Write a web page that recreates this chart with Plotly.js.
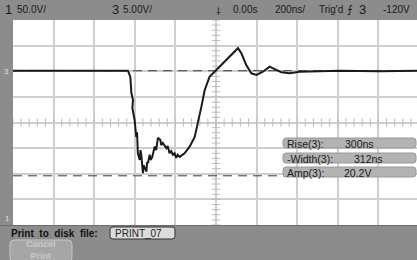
<!DOCTYPE html>
<html>
<head>
<meta charset="utf-8">
<script src="https://cdn.plot.ly/plotly-3.0.1.min.js"></script>
<style>
html,body{margin:0;padding:0;background:#8c8c8c;}
#chart{width:417px;height:260px;}
</style>
</head>
<body>
<div id="chart"></div>
<script>
// Channel 3 waveform: time (ns) and voltage (V)
const timeNs = [-1000,-434,-422,-417,-409,-412,-401,-393,-389,-385,-376,-372,-368,-360,-357,-352,-343,-339,-335,-327,-322,-314,-302,-295,-286,-274,-270,-262,-245,-238,-229,-221,-212,-204,-196,-189,-179,-155,-130,-105,-89,-72,-56,-32,-7,18,51,83,108,125,149,174,199,231,264,289,322,363,412,609,806,990];
const volts  = [10.1,10.1,8.9,5.8,4.4,2.8,0.5,-2.8,-1.9,-6.0,-7.3,-5.4,-6.3,-9.9,-8.3,-8.7,-9.6,-7.7,-7.9,-6.3,-7.3,-6.7,-4.7,-5.4,-3.0,-3.4,-4.4,-4.0,-5.0,-4.6,-6.0,-5.6,-6.3,-6.0,-6.9,-6.3,-6.7,-6.0,-4.7,-2.8,-0.1,3.1,6.3,8.9,9.9,10.9,12.2,13.5,14.5,13.5,11.2,9.6,9.3,9.9,10.9,10.4,9.8,9.6,9.9,10.1,10.0,10.1];
// Amplitude measurement cursor levels (V)
const ampLevels = [10.1, -10.4];
const timeRange = [-1000, 990];
const voltRange = [-20, 20];
// Measurement readouts
const measLabels = ["Rise(3):", "-Width(3):", "Amp(3):"];
const measValues = ["300ns", "312ns", "20.2V"];
// Status bar texts
const ch1Scale = "50.0V/";
const ch3Scale = "5.00V/";
const timeDelay = "0.00s";
const timeScale = "200ns/";
const trigText = "Trig'd";
const trigLevel = "-120V";
const fileName = "PRINT_07";

// pixel -> paper helpers (layout only)
const L=13, T=20, W=404, H=205;
const X = px => (px - L) / W;
const Y = py => (T + H - py) / H;

const traces = [];
// center axis minor ticks (decoration)
const tx=[], ty=[];
for (let t=timeRange[0]; t<=timeRange[1]; t+=40){ tx.push(t); ty.push(0); }
const vx=[], vy=[];
for (let v=voltRange[0]; v<=voltRange[1]; v+=1){ vx.push(0); vy.push(v); }
traces.push({x:tx,y:ty,mode:'markers',marker:{symbol:'line-ns-open',size:6,color:'#bdbdbd',line:{width:1,color:'#bdbdbd'}},hoverinfo:'skip'});
traces.push({x:vx,y:vy,mode:'markers',marker:{symbol:'line-ew-open',size:6,color:'#bdbdbd',line:{width:1,color:'#bdbdbd'}},hoverinfo:'skip'});
// amplitude cursor lines
ampLevels.forEach(lv=>{
  traces.push({x:timeRange,y:[lv,lv],mode:'lines',line:{color:'#3a3a3a',width:1,dash:'9px,6px'},hoverinfo:'skip'});
});
// waveform
traces.push({x:timeNs,y:volts,mode:'lines',line:{color:'#1a1a1a',width:2},hoverinfo:'skip'});

const shapes = [];
const annotations = [];
const font = {family:'Liberation Sans, Arial, sans-serif', size:10, color:'#1a1a1a'};
function txt(text, px, py, opts={}){
  annotations.push(Object.assign({text:text, xref:'paper', yref:'paper', x:X(px), y:Y(py), xanchor:'left', yanchor:'middle', showarrow:false, font:Object.assign({}, font, opts.font||{})}, opts.extra||{}));
}
function rrect(x0,y0,x1,y1,r,fill,line){
  const a=X(x0), b=X(x1), c=Y(y0), d=Y(y1);
  const rx=r/W, ry=r/H;
  const path = `M ${a+rx} ${c} L ${b-rx} ${c} Q ${b} ${c} ${b} ${c-ry} L ${b} ${d+ry} Q ${b} ${d} ${b-rx} ${d} L ${a+rx} ${d} Q ${a} ${d} ${a} ${d+ry} L ${a} ${c-ry} Q ${a} ${c} ${a+rx} ${c} Z`;
  shapes.push({type:'path', xref:'paper', yref:'paper', path:path, fillcolor:fill, line:{color:line, width:1}, layer:'above'});
}

// top bar
txt('1', 3, 10, {font:{size:13}});
txt(ch1Scale, 15, 10);
txt('3', 110, 10, {font:{size:13}});
txt(ch3Scale, 121, 10);
txt('⸸', 214, 12, {font:{size:10}});
txt(timeDelay, 231, 10);
txt(timeScale, 273, 10);
txt(trigText, 317, 10);
txt('⨍', 345, 10, {font:{size:11}});
txt('3', 357, 10, {font:{size:13}});
txt(trigLevel, 381, 10);

// measurement boxes
const boxRows = [[138,148],[153,163],[167,177]];
const valX = [343, 352, 342];
boxRows.forEach((r,i)=>{
  rrect(283, r[0], 416, r[1], 3, '#b3b3b3', '#9a9a9a');
  txt(measLabels[i], 285, (r[0]+r[1])/2+0.5, {font:{size:10.5}});
  txt(measValues[i], valX[i], (r[0]+r[1])/2+0.5, {font:{size:10.5}});
});

// left markers
txt('3', 2, 71, {font:{size:8, color:'#e0e0e0'}});
txt('1', 3, 218, {font:{size:8, color:'#e0e0e0'}});

// bottom bar
shapes.push({type:'line', xref:'paper', yref:'paper', x0:X(0), x1:X(417), y0:Y(225.5), y1:Y(225.5), line:{color:'#6e6e6e', width:1}, layer:'above'});
annotations.push({text:'<b>Print  to  disk  file:</b>', xref:'paper', yref:'paper', x:X(9), y:Y(233), xanchor:'left', yanchor:'middle', showarrow:false, font:{family:'Liberation Sans, Arial, sans-serif', size:10, color:'#111'}});
rrect(110, 227, 175, 239, 3, '#dcdcdc', '#333');
txt(fileName, 113, 233, {font:{size:10, color:'#222'}});
rrect(10, 240, 72, 262, 4, '#a6a6a6', '#c4c4c4');
annotations.push({text:'<b>Cancel<br>Print</b>', xref:'paper', yref:'paper', x:X(41), y:Y(249.5), xanchor:'center', yanchor:'middle', showarrow:false, font:{family:'Liberation Sans, Arial, sans-serif', size:9, color:'#c9c9c9'}});

const layout = {
  width:417, height:260,
  margin:{l:L, r:0, t:T, b:260-T-H},
  paper_bgcolor:'#8c8c8c',
  plot_bgcolor:'#ffffff',
  showlegend:false,
  xaxis:{range:timeRange, tickmode:'linear', tick0:-1000, dtick:200, showgrid:true, gridcolor:'#cfcfcf', gridwidth:2, zeroline:false, showticklabels:false, ticks:'', showline:false, fixedrange:true},
  yaxis:{range:voltRange, tickmode:'linear', tick0:-20, dtick:5, showgrid:true, gridcolor:'#cfcfcf', gridwidth:2, zeroline:false, showticklabels:false, ticks:'', showline:false, fixedrange:true},
  shapes:shapes,
  annotations:annotations
};
Plotly.newPlot('chart', traces, layout, {displayModeBar:false, staticPlot:true});
</script>
</body>
</html>
